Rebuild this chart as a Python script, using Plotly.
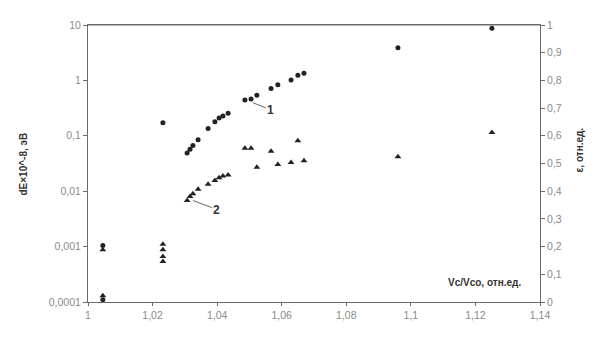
import plotly.graph_objects as go

# series 1 (circles) - dE, left log axis
x1 = [1.0046, 1.0046, 1.0232, 1.0307, 1.0316, 1.0325, 1.0341, 1.0372, 1.0393, 1.0406,
      1.0418, 1.0434, 1.0486, 1.0505, 1.0523, 1.0567, 1.0588, 1.0629, 1.0650, 1.0669,
      1.0960, 1.1251]
y1 = [0.00105, 0.00011, 0.172, 0.0488, 0.057, 0.067, 0.085, 0.136, 0.179, 0.21,
      0.227, 0.256, 0.444, 0.462, 0.54, 0.713, 0.834, 1.02, 1.24, 1.34,
      3.9, 8.7]

# series 2 (triangles)
x2 = [1.0046, 1.0046, 1.0232, 1.0232, 1.0232, 1.0232, 1.0307, 1.0316, 1.0325, 1.0341,
      1.0372, 1.0393, 1.0406, 1.0418, 1.0434, 1.0486, 1.0505, 1.0523, 1.0567, 1.0588,
      1.0629, 1.0650, 1.0669, 1.0960, 1.1251]
y2 = [0.00088, 0.00013, 0.0011, 0.00088, 0.00066, 0.00054, 0.0068, 0.0080, 0.0090, 0.0109,
      0.0133, 0.0156, 0.0175, 0.0189, 0.0197, 0.0594, 0.0594, 0.027, 0.0528, 0.0304,
      0.0329, 0.0815, 0.0356, 0.0420, 0.115]

x_ticks = [1, 1.02, 1.04, 1.06, 1.08, 1.1, 1.12, 1.14]
x_labels = ["1", "1,02", "1,04", "1,06", "1,08", "1,1", "1,12", "1,14"]
y_ticks = [0.0001, 0.001, 0.01, 0.1, 1, 10]
y_labels = ["0,0001", "0,001", "0,01", "0,1", "1", "10"]
y2_ticks = [0, 0.1, 0.2, 0.3, 0.4, 0.5, 0.6, 0.7, 0.8, 0.9, 1]
y2_labels = ["0", "0,1", "0,2", "0,3", "0,4", "0,5", "0,6", "0,7", "0,8", "0,9", "1"]

font = "Liberation Sans, Arial, sans-serif"
grey = "#8a8a8a"
line = "#6a6a6a"

fig = go.Figure()
fig.add_trace(go.Scatter(x=x1, y=y1, mode="markers", name="1",
                         marker=dict(symbol="circle", size=5, color="#222")))
fig.add_trace(go.Scatter(x=x2, y=y2, mode="markers", name="2",
                         marker=dict(symbol="triangle-up", size=6, color="#222")))
# empty trace so the right axis (ε) gets drawn
fig.add_trace(go.Scatter(x=[None], y=[None], yaxis="y2", mode="markers",
                         hoverinfo="skip"))

# page body has an 8px margin, so the figure is sized to fit the window
fig.update_layout(
    width=595, height=324,
    margin=dict(l=80, r=63, t=11, b=21),
    paper_bgcolor="white", plot_bgcolor="white",
    showlegend=False,
    font=dict(family=font, size=10.5, color=grey),
    xaxis=dict(range=[1, 1.14], tickvals=x_ticks, ticktext=x_labels,
               showgrid=False, zeroline=False, showline=True, linecolor=line,
               linewidth=1, mirror=True, ticks="outside", ticklen=3, tickcolor=line),
    yaxis=dict(type="log", range=[-4, 1], tickvals=y_ticks, ticktext=y_labels,
               showgrid=False, zeroline=False, showline=True, linecolor=line,
               linewidth=1, ticks="outside", ticklen=4, tickcolor=line),
    yaxis2=dict(overlaying="y", side="right", range=[0, 1],
                tickvals=y2_ticks, ticktext=y2_labels,
                showgrid=False, zeroline=False, showline=True, linecolor=line,
                linewidth=1, ticks="outside", ticklen=4, tickcolor=line),
    shapes=[dict(type="line", xref="paper", yref="paper", x0=0, x1=1, y0=1, y1=1,
                 line=dict(color=line, width=1))],
    annotations=[
        dict(text="<b>dE×10^-8, эВ</b>", xref="paper", yref="paper", x=-0.1416, y=0.5,
             xanchor="center", textangle=-90, showarrow=False,
             font=dict(size=10, color="#333")),
        dict(text="<b>ε, отн.ед.</b>", xref="paper", yref="paper", x=1.088, y=0.55,
             xanchor="center", textangle=-90, showarrow=False,
             font=dict(size=10, color="#333")),
        dict(text="<b>Vc/Vco, отн.ед.</b>", xref="paper", yref="paper", x=0.963, y=0.045,
             xanchor="right", showarrow=False, font=dict(size=10, color="#333")),
        dict(text="<b>1</b>", x=1.0511, y=-0.404, xref="x", yref="y",
             showarrow=True, arrowhead=0, arrowwidth=1, arrowcolor=line,
             ax=18, ay=7, font=dict(size=12, color="#333")),
        dict(text="<b>2</b>", x=1.0325, y=-2.168, xref="x", yref="y",
             showarrow=True, arrowhead=0, arrowwidth=1, arrowcolor=line,
             ax=24, ay=9, font=dict(size=12, color="#333")),
    ],
)

fig.write_html("out.html")
